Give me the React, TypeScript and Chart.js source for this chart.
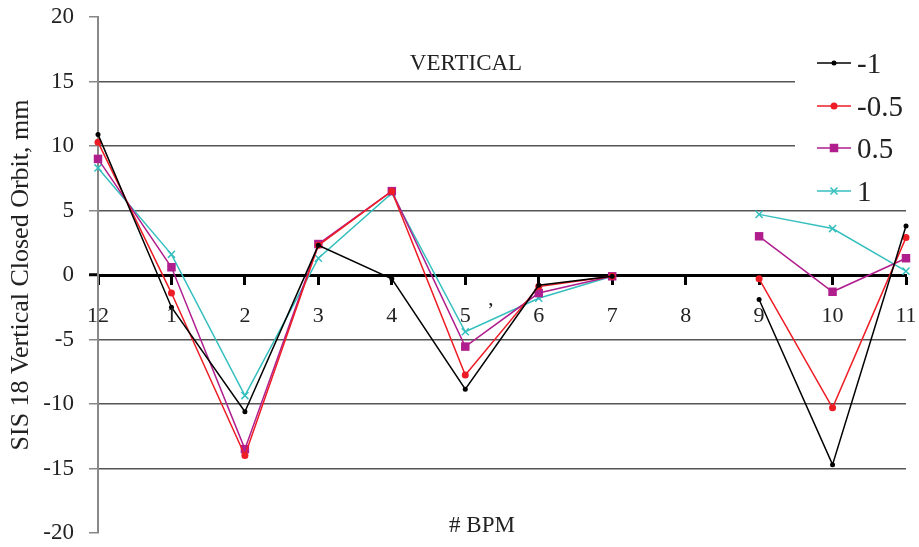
import React, { useEffect, useRef } from "react";
import { Chart, registerables } from "chart.js";

Chart.register(...registerables);

const categories = ["12", "1", "2", "3", "4", "5", "6", "7", "8", "9", "10", "11"];
const seriesLabels = ["-1", "-0.5", "0.5", "1"];
const valsM1 = [10.9, -2.5, -10.6, 2.3, -0.3, -8.85, -0.8, -0.1, null, -1.9, -14.7, 3.8];
const valsM05 = [10.3, -1.4, -14.0, 2.3, 6.5, -7.75, -0.9, -0.1, null, -0.3, -10.3, 2.9];
const valsP05 = [9.0, 0.6, -13.5, 2.4, 6.5, -5.55, -1.4, -0.1, null, 3.0, -1.3, 1.3];
const valsP1 = [8.3, 1.6, -9.35, 1.3, 6.35, -4.4, -1.8, -0.1, null, 4.7, 3.6, 0.3];
const yTitle = "SIS 18 Vertical Closed Orbit, mm";
const innerTitle = "VERTICAL";
const xTitle = "# BPM";

const FONT = "'Liberation Serif', 'Times New Roman', serif";
const TEXT = "#222";
const colors = ["#000000", "#ee1c25", "#b01e8e", "#35bfbf"];
const styles: any[] = ["circle", "circle", "rect", "crossRot"];
const radii = [2.5, 3.5, 6, 5];

function drawMarker(ctx: CanvasRenderingContext2D, style: string, x: number, y: number, r: number, color: string) {
  ctx.save();
  ctx.fillStyle = color;
  ctx.strokeStyle = color;
  ctx.lineWidth = 1.5;
  if (style === "circle") {
    ctx.beginPath();
    ctx.arc(x, y, r, 0, Math.PI * 2);
    ctx.fill();
  } else if (style === "rect") {
    const s = r * Math.SQRT1_2;
    ctx.fillRect(x - s, y - s, 2 * s, 2 * s);
  } else if (style === "crossRot") {
    const s = r * Math.SQRT1_2;
    ctx.beginPath();
    ctx.moveTo(x - s, y - s);
    ctx.lineTo(x + s, y + s);
    ctx.moveTo(x - s, y + s);
    ctx.lineTo(x + s, y - s);
    ctx.stroke();
  }
  ctx.restore();
}

const decorPlugin = {
  id: "decor",
  beforeDatasetsDraw(chart: any) {
    const ctx = chart.ctx;
    ctx.save();
    ctx.fillStyle = "#fff";
    ctx.fillRect(795, 30, 124, 172);
    ctx.restore();
  },
  afterDraw(chart: any) {
    const ctx: CanvasRenderingContext2D = chart.ctx;
    const xs = chart.scales.x;
    const ys = chart.scales.y;
    const zeroY = ys.getPixelForValue(0);
    ctx.save();
    ctx.fillStyle = TEXT;
    // category labels below the zero line
    ctx.font = `22px ${FONT}`;
    ctx.textAlign = "center";
    ctx.textBaseline = "alphabetic";
    categories.forEach((c, i) => {
      ctx.fillText(c, xs.getPixelForValue(i), zeroY + 47);
    });
    ctx.textAlign = "left";
    ctx.fillText("\u2019", 487, 317);
    ctx.font = `23px ${FONT}`;
    ctx.textAlign = "center";
    ctx.fillText(innerTitle, 466, 70);
    ctx.fillText(xTitle, 482, 532);
    // legend
    const rows = [63, 106, 148, 191];
    ctx.textAlign = "left";
    ctx.font = `29px ${FONT}`;
    seriesLabels.forEach((lab, i) => {
      const y = rows[i];
      ctx.strokeStyle = colors[i];
      ctx.lineWidth = 1.5;
      ctx.beginPath();
      ctx.moveTo(817, y);
      ctx.lineTo(851, y);
      ctx.stroke();
      drawMarker(ctx, styles[i], 834, y, radii[i], colors[i]);
      ctx.fillStyle = TEXT;
      ctx.fillText(lab, 857, y + 10);
    });
    ctx.restore();
  },
};

export default function App() {
  const ref = useRef<HTMLCanvasElement | null>(null);
  useEffect(() => {
    document.body.style.margin = "0";
    const canvas = ref.current!;
    const data = [valsM1, valsM05, valsP05, valsP1];
    const chart = new Chart(canvas, {
      type: "line",
      data: {
        labels: categories,
        datasets: data.map((d, i) => ({
          label: seriesLabels[i],
          data: d,
          borderColor: colors[i],
          backgroundColor: colors[i],
          borderWidth: 1.5,
          pointStyle: styles[i],
          pointRadius: radii[i],
          pointBorderWidth: styles[i] === "crossRot" ? 1.5 : 0,
          pointBorderColor: colors[i],
          pointBackgroundColor: colors[i],
          tension: 0,
          spanGaps: false,
          fill: false,
        })),
      },
      options: {
        animation: false,
        responsive: false,
        devicePixelRatio: 1,
        layout: { padding: { top: 17, bottom: 14, right: 13, left: 0 } },
        plugins: { legend: { display: false }, tooltip: { enabled: false }, title: { display: false } },
        scales: {
          x: {
            type: "category",
            position: { y: 0 } as any,
            offset: false,
            afterFit: (scale: any) => {
              scale.paddingLeft = 0;
              scale.paddingRight = 0;
              scale.paddingTop = 0;
              scale.paddingBottom = 0;
            },
            grid: {
              drawOnChartArea: false,
              drawTicks: true,
              tickLength: 8,
              tickWidth: 3,
              tickColor: "#000",
            },
            border: { color: "#000", width: 3 },
            ticks: {
              display: false,
              font: { family: FONT, size: 22 },
              maxRotation: 0,
              autoSkip: false,
            },
          },
          y: {
            min: -20,
            max: 20,
            afterFit: (scale: any) => {
              scale.width = 98;
              scale.paddingTop = 0;
              scale.paddingBottom = 0;
            },
            ticks: {
              stepSize: 5,
              font: { family: FONT, size: 23 },
              color: TEXT,
              padding: 15,
            },
            grid: {
              drawOnChartArea: true,
              lineWidth: 1.5,
              color: (c: any) => {
                const v = c.tick ? c.tick.value : null;
                return v === 0 || v === 20 || v === -20 ? "rgba(0,0,0,0)" : "#555";
              },
              tickLength: 9,
              tickColor: (c: any) => (c.tick && c.tick.value === 0 ? "#000" : "#888"),
              tickWidth: (c: any) => (c.tick && c.tick.value === 0 ? 3 : 1.5),
            },
            border: { color: "#888", width: 2 },
            title: {
              display: true,
              text: yTitle,
              font: { family: FONT, size: 26 },
              color: TEXT,
              padding: { top: 6, bottom: 0 },
            },
          },
        },
      },
      plugins: [decorPlugin],
    });
    return () => chart.destroy();
  }, []);
  return (
    <div style={{ width: 919, height: 547 }}>
      <canvas ref={ref} width={919} height={547} style={{ display: "block" }} />
    </div>
  );
}
